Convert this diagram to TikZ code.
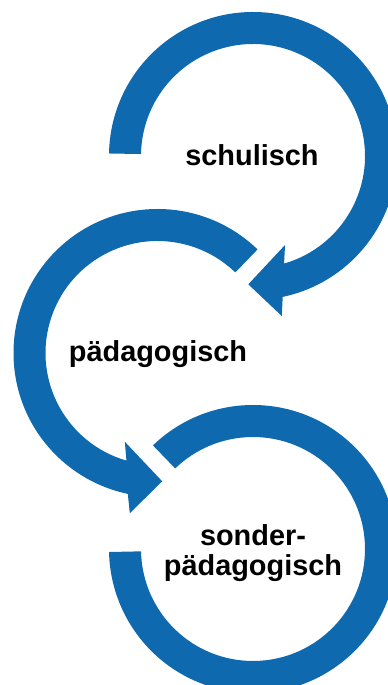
\documentclass[tikz,border=0pt]{standalone}
\usepackage{fontspec}
\setmainfont{Liberation Sans}
\definecolor{ringblue}{RGB}{15,105,175}
\begin{document}
\begin{tikzpicture}[x=1bp,y=1bp,
  ring/.style={fill=ringblue,draw=none},
  lbl/.style={font=\bfseries\fontsize{29}{30.3}\selectfont,anchor=base,align=center,inner sep=0pt}]
\useasboundingbox (0,0) rectangle (387,685);
% top ring (schulisch), centre (253,529)
\begin{scope}[shift={(253,529)}]
\fill[ring] (179:144) arc[start angle=179,end angle=-78.1,radius=144]
  -- (-79.8:162.6) -- (-92.1:128.4) -- (-70.2:94.6) -- (-73.9:112)
  arc[start angle=-73.9,end angle=179,radius=112] -- cycle;
\end{scope}
% middle ring (paedagogisch), centre (157.5,332)
\begin{scope}[shift={(157.5,332)}]
\fill[ring] (46:144) arc[start angle=46,end angle=258.1,radius=144]
  -- (260.2:162.6) -- (272.1:128.4) -- (249.8:94.6) -- (253.9:112)
  arc[start angle=253.9,end angle=46,radius=112] -- cycle;
\end{scope}
% bottom ring (sonderpaedagogisch), centre (253,136)
\begin{scope}[shift={(253,136)}]
\fill[ring] (134:144) arc[start angle=134,end angle=-178.8,radius=144]
  -- (-178.8:112) arc[start angle=-178.8,end angle=134,radius=112] -- cycle;
\end{scope}
\node[lbl] (schul) at (252,519) {schulisch};
\node[lbl] (paed) at (158,323) {pädagogisch};
\node[lbl] (sonder) at (253,109) {sonder-\\pädagogisch};
\end{tikzpicture}
\end{document}
